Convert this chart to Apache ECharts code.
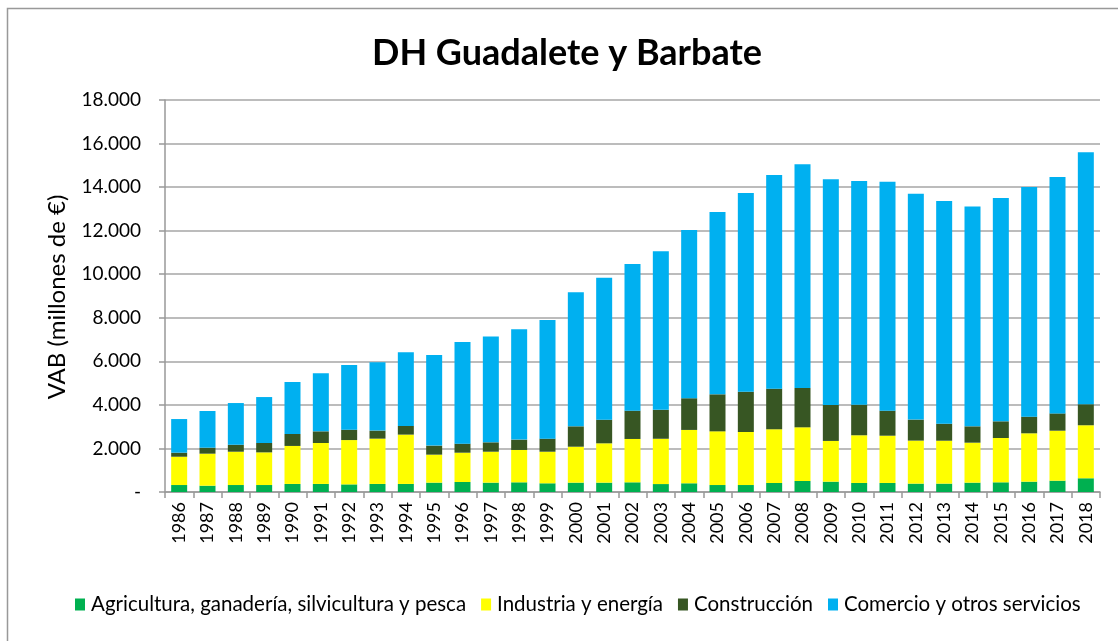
<!DOCTYPE html>
<html>
<head>
<meta charset="utf-8">
<script src="https://cdn.jsdelivr.net/npm/echarts@6/dist/echarts.min.js"></script>
<style>
  html, body { margin: 0; padding: 0; background: #fff; }
  #chart { width: 1118px; height: 641px; }
</style>
</head>
<body>
<div id="chart"></div>
<script>
const years = ["1986","1987","1988","1989","1990","1991","1992","1993","1994","1995","1996",
  "1997","1998","1999","2000","2001","2002","2003","2004","2005","2006","2007","2008",
  "2009","2010","2011","2012","2013","2014","2015","2016","2017","2018"]

const agricultura = [320,290,320,320,370,370,350,370,370,430,460,430,445,400,430,430,445,365,
  400,320,320,415,505,475,415,415,385,385,430,445,475,520,630]
const industria = [1300,1470,1530,1500,1745,1880,2035,2080,2265,1285,1345,1420,1485,1450,1650,
  1805,1990,2080,2450,2465,2435,2465,2465,1870,2190,2170,1975,1970,1835,2035,2220,2295,2435]
const construccion = [185,275,320,430,550,535,475,370,400,415,415,430,475,600,935,1085,1300,
  1330,1455,1700,1850,1865,1805,1650,1405,1150,965,780,750,765,765,795,965]
const comercio = [1545,1685,1915,2110,2390,2665,2970,3140,3385,4165,4670,4865,5065,5450,6155,
  6520,6735,7285,7730,8370,9125,9810,10270,10365,10270,10515,10375,10225,10100,10255,10545,
  10855,11575]

const yAxisName = "VAB (millones de €)"

const fontFam = "Lato, 'Noto Sans', sans-serif"

var chartDom = document.getElementById("chart")
var myChart = echarts.init(chartDom)

const mkSeries = (name, data, color) => ({
  name: name,
  type: "bar",
  stack: "vab",
  data: data,
  barWidth: 16,
  itemStyle: { color: color },
})

var option = {
  animation: false,
  textStyle: { fontFamily: fontFam },
  title: {
    text: "DH Guadalete y Barbate",
    left: 367,
    top: 30,
    textStyle: { fontSize: 36, fontWeight: "bold", color: "#000", fontFamily: fontFam },
  },
  graphic: [
    {
      type: "rect",
      shape: { x: 7.5, y: 8.5, width: 1130, height: 650 },
      style: { fill: "none", stroke: "#999", lineWidth: 1.5 },
    },
    // axis name drawn by hand so its position is exact
    {
      type: "text",
      x: 57,
      y: 297,
      rotation: Math.PI / 2,
      style: {
        text: yAxisName,
        fontSize: 24,
        fontFamily: fontFam,
        fill: "#000",
        align: "center",
        verticalAlign: "middle",
      },
    },
  ],
  legend: {
    bottom: 21,
    left: 70,
    itemWidth: 10,
    itemHeight: 12,
    itemGap: 15,
    icon: "rect",
    textStyle: { fontSize: 20.5, color: "#000", fontFamily: fontFam, padding: [0, 0, 0, 1] },
  },
  grid: { left: 165, right: 18, top: 100, bottom: 149 },
  xAxis: {
    type: "category",
    data: years,
    axisLine: { lineStyle: { color: "#999", width: 1.5 } },
    axisTick: { show: true, length: 6, lineStyle: { color: "#999", width: 1.5 } },
    axisLabel: { rotate: 90, fontSize: 18, color: "#000", margin: 10 },
  },
  yAxis: {
    type: "value",
    min: 0,
    max: 18000,
    interval: 2000,
    axisLine: { show: true, lineStyle: { color: "#999", width: 1.5 } },
    axisTick: { show: true, length: 6, lineStyle: { color: "#999", width: 1.5 } },
    splitLine: { lineStyle: { color: "#a6a6a6", width: 1.5 } },
    axisLabel: {
      fontSize: 19,
      color: "#000",
      margin: 24,
      formatter: (v) => (v === 0 ? "-" : (v / 1000).toFixed(3)),
    },
  },
  series: [
    mkSeries("Agricultura, ganadería, silvicultura y pesca", agricultura, "#00b050"),
    mkSeries("Industria y energía", industria, "#ffff00"),
    mkSeries("Construcción", construccion, "#375623"),
    mkSeries("Comercio y otros servicios", comercio, "#00b0f0"),
  ],
}

option && myChart.setOption(option)
</script>
</body>
</html>
